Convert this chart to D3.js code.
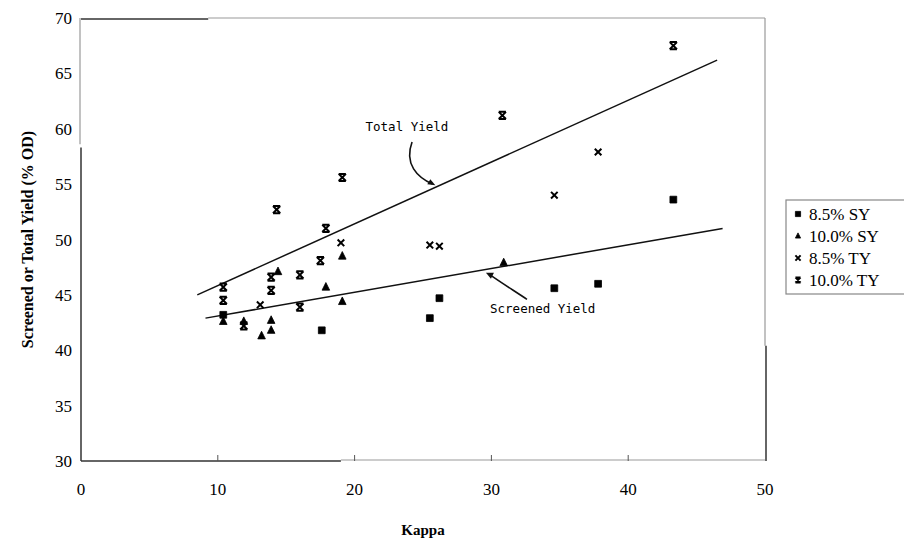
<!DOCTYPE html>
<html>
<head>
<meta charset="utf-8">
<script src="https://cdn.jsdelivr.net/npm/d3@7"></script>
<style>
  body { margin: 0; background: #fff; }
  svg text { font-family: "Liberation Serif", "Times New Roman", serif; }
  svg text.note { font-family: "DejaVu Sans Mono", monospace; font-size: 12.5px; }
</style>
</head>
<body>
<svg id="chart" width="904" height="548"></svg>
<script>
// kappa / yield pairs
const sy85 = [[10.4, 43.2], [17.6, 41.8], [25.5, 42.9], [26.2, 44.7], [34.6, 45.6], [37.8, 46.0], [43.3, 53.6]];
const sy10 = [[10.4, 42.6], [11.9, 42.6], [13.2, 41.3], [13.9, 42.7], [13.9, 41.8], [14.4, 47.1], [17.9, 45.7], [19.1, 44.4], [19.1, 48.5], [30.9, 47.9]];
const ty85 = [[13.1, 44.1], [19.0, 49.7], [25.5, 49.5], [26.2, 49.4], [34.6, 54.0], [37.8, 57.9]];
const ty10 = [[10.4, 45.7], [10.4, 44.5], [11.9, 42.2], [13.9, 46.6], [13.9, 45.4], [14.3, 52.7], [16.0, 46.8], [16.0, 43.9], [17.5, 48.1], [17.9, 51.0], [19.1, 55.6], [30.8, 61.2], [43.3, 67.5]];

// fitted lines (end points)
const tyFit = [[8.5, 45.0], [46.5, 66.2]];
const syFit = [[9.1, 42.9], [46.9, 51.0]];

const xTicks = [0, 10, 20, 30, 40, 50];
const yTicks = [30, 35, 40, 45, 50, 55, 60, 65, 70];
const legendLabels = ["8.5% SY", "10.0% SY", "8.5% TY", "10.0% TY"];

const margin = { top: 18, left: 81, right: 139, bottom: 87 };
const width = 904, height = 548;

const svg = d3.select("#chart");

const x = d3.scaleLinear().domain([0, 50]).range([margin.left, width - margin.right]);
const y = d3.scaleLinear().domain([30, 70]).range([height - margin.bottom, margin.top]);

// Plot frame - the scan has it broken in a few places, dark and grey parts
const x0 = x(0), x1 = x(50), y0 = y(30), y1 = y(70);
const frame = svg.append("g").attr("fill", "none");
frame.append("path").attr("d", `M${x0},${y0}V${y(58.3)}`).attr("stroke", "#333").attr("stroke-width", 1.5);
frame.append("path").attr("d", `M${x0 - 1},${y(58.6)}V${y1}`).attr("stroke", "#999").attr("stroke-width", 1.2);
frame.append("path").attr("d", `M${x0},${y1 + 1}H${x(9.3)}`).attr("stroke", "#333").attr("stroke-width", 1.5);
frame.append("path").attr("d", `M${x(9.3)},${y1}H${x1}`).attr("stroke", "#999").attr("stroke-width", 1.2);
frame.append("path").attr("d", `M${x1},${y1}V${y(40.4)}`).attr("stroke", "#999").attr("stroke-width", 1.2);
frame.append("path").attr("d", `M${x1 + 1},${y(40.4)}V${y0}`).attr("stroke", "#333").attr("stroke-width", 1.5);
frame.append("path").attr("d", `M${x0},${y0}H${x(19)}`).attr("stroke", "#333").attr("stroke-width", 1.5);
frame.append("path").attr("d", `M${x(19)},${y0 - 1}H${x1}`).attr("stroke", "#999").attr("stroke-width", 1.2);

// small inward ticks on the x axis
svg.append("g").selectAll("line")
    .data(xTicks.slice(1, -1))
    .enter()
    .append("line")
    .attr("x1", d => x(d)).attr("x2", d => x(d))
    .attr("y1", y0).attr("y2", y0 - 6)
    .attr("stroke", "#555");

// tick labels
svg.append("g").selectAll("text")
    .data(xTicks)
    .enter()
    .append("text")
    .attr("x", d => x(d))
    .attr("y", y0 + 34)
    .attr("text-anchor", "middle")
    .style("font-size", "17px")
    .text(d => d);

svg.append("g").selectAll("text")
    .data(yTicks)
    .enter()
    .append("text")
    .attr("x", x0 - 9)
    .attr("y", d => y(d) + 6)
    .attr("text-anchor", "end")
    .style("font-size", "17px")
    .text(d => d);

// axis titles
svg.append("text")
    .attr("x", x(25))
    .attr("y", 535)
    .attr("text-anchor", "middle")
    .style("font-size", "15px")
    .style("font-weight", "bold")
    .text("Kappa");

svg.append("text")
    .attr("transform", `translate(33, ${y(50)}) rotate(-90)`)
    .attr("text-anchor", "middle")
    .style("font-size", "16px")
    .style("font-weight", "bold")
    .text("Screened or Total Yield (% OD)");

// fitted lines
const line = d3.line().x(d => x(d[0])).y(d => y(d[1]));
svg.append("g").selectAll("path")
    .data([tyFit, syFit])
    .enter()
    .append("path")
    .attr("d", line)
    .attr("fill", "none")
    .attr("stroke", "#111")
    .attr("stroke-width", 1.5);

// marker shapes
const sym = {
    square: s => `M${-s},${-s}H${s}V${s}H${-s}Z`,
    triangle: s => `M0,${-s * 1.2}L${s},${s * 0.8}H${-s}Z`,
    cross: s => `M${-s},${-s}L${s},${s}M${s},${-s}L${-s},${s}`,
    star: s => `M${-s},${-s}H${s}M${-s},${s}H${s}M${-s},${-s}L${s},${s}M${s},${-s}L${-s},${s}`
};

const series = [
    { data: sy85, shape: "square", size: 3.4, fill: true },
    { data: sy10, shape: "triangle", size: 3.8, fill: true },
    { data: ty85, shape: "cross", size: 3.3, fill: false },
    { data: ty10, shape: "star", size: 3.6, fill: false }
];

function drawMarker(g, shape, size, fill) {
    g.append("path")
        .attr("d", sym[shape](size))
        .attr("fill", fill ? "#000" : "none")
        .attr("stroke", "#000")
        .attr("stroke-width", fill ? 0.8 : 2);
}

series.forEach(s => {
    const g = svg.append("g");
    s.data.forEach(d => {
        const m = g.append("g").attr("transform", `translate(${x(d[0])},${y(d[1])})`);
        drawMarker(m, s.shape, s.size, s.fill);
    });
});

// annotations
svg.append("text").attr("class", "note")
    .attr("x", x(20.8)).attr("y", y(59.8))
    .text("Total Yield");
svg.append("path")
    .attr("d", `M${x(24.2)},${y(58.8)} C${x(23.6)},${y(56.8)} ${x(24.6)},${y(55.6)} ${x(25.7)},${y(55.0)}`)
    .attr("fill", "none").attr("stroke", "#111").attr("stroke-width", 1.6);
svg.append("path")
    .attr("d", `M${x(25.9)},${y(54.9)} l-8,-1 l3,-5 Z`)
    .attr("fill", "#111");

svg.append("text").attr("class", "note")
    .attr("x", x(29.9)).attr("y", y(43.4))
    .text("Screened Yield");
svg.append("path")
    .attr("d", `M${x(32.6)},${y(44.6)} C${x(31.5)},${y(45.5)} ${x(30.6)},${y(46.2)} ${x(29.8)},${y(46.9)}`)
    .attr("fill", "none").attr("stroke", "#111").attr("stroke-width", 1.6);
svg.append("path")
    .attr("d", `M${x(29.6)},${y(47.0)} l8,0 l-3,6 Z`)
    .attr("fill", "#111");

// legend
const lg = svg.append("g").attr("transform", "translate(786, 200)");
lg.append("rect")
    .attr("width", 130).attr("height", 94)
    .attr("fill", "#fff").attr("stroke", "#888").attr("stroke-width", 1.2);
legendLabels.forEach((label, i) => {
    const row = lg.append("g").attr("transform", `translate(12, ${14 + i * 22})`);
    drawMarker(row.append("g"), series[i].shape, 2.6, series[i].fill);
    row.append("text")
        .attr("x", 11).attr("y", 6)
        .style("font-size", "17px")
        .text(label);
});
</script>
</body>
</html>
